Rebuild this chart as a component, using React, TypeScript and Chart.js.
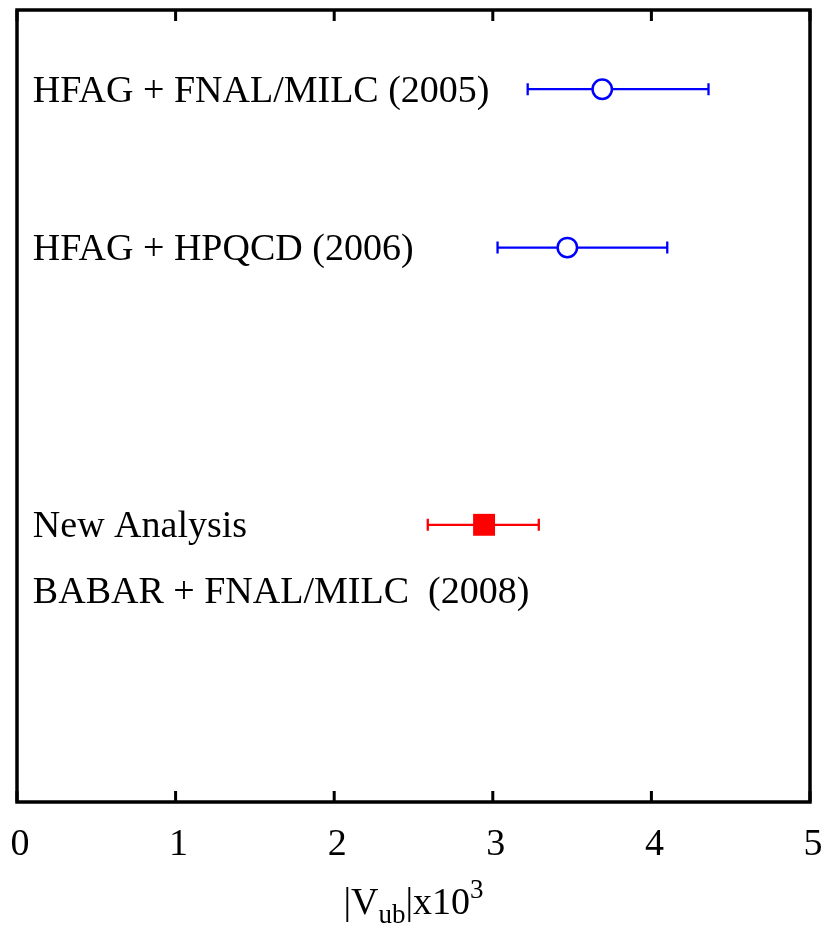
import React, { useEffect, useRef } from "react";
import { Chart, registerables } from "chart.js";

Chart.register(...registerables);

// ---- data ----
const xTickValues = [0, 1, 2, 3, 4, 5];
const xMin = 0;
const xMax = 5;
const yMin = 0;
const yMax = 10;

const rowLabels = [
  "HFAG + FNAL/MILC (2005)",
  "HFAG + HPQCD (2006)",
  "New Analysis",
  "BABAR + FNAL/MILC  (2008)",
];
const rowLabelY = [9, 7, 3.5, 2.67];
const rowLabelX = 0.1;

const blueCenters = [3.69, 3.47];
const blueLow = [3.22, 3.03];
const blueHigh = [4.36, 4.1];
const blueY = [9, 7];

const redCenters = [2.945];
const redLow = [2.59];
const redHigh = [3.29];
const redY = [3.5];

const SERIF = '"Liberation Serif", "Times New Roman", serif';

const errorBarPlugin = {
  id: "errorBars",
  beforeDatasetsDraw(chart: any) {
    const ctx = chart.ctx;
    const xs = chart.scales.x;
    const ys = chart.scales.y;
    chart.data.datasets.forEach((ds: any) => {
      const lows: number[] = ds.errLow;
      const highs: number[] = ds.errHigh;
      ds.data.forEach((p: any, i: number) => {
        const y = ys.getPixelForValue(p.y);
        const x1 = xs.getPixelForValue(lows[i]);
        const x2 = xs.getPixelForValue(highs[i]);
        ctx.save();
        ctx.strokeStyle = ds.borderColor;
        ctx.lineWidth = 2.3;
        ctx.beginPath();
        ctx.moveTo(x1, y);
        ctx.lineTo(x2, y);
        ctx.moveTo(x1, y - 6);
        ctx.lineTo(x1, y + 6);
        ctx.moveTo(x2, y - 6);
        ctx.lineTo(x2, y + 6);
        ctx.stroke();
        ctx.restore();
      });
    });
  },
};

const framePlugin = {
  id: "frame",
  afterDraw(chart: any) {
    const ctx = chart.ctx;
    const { left, right, top, bottom } = chart.chartArea;
    const xs = chart.scales.x;
    const ys = chart.scales.y;
    ctx.save();
    // labels
    const fs = 38;
    ctx.fillStyle = "#000";
    ctx.font = `${fs}px ${SERIF}`;
    ctx.textAlign = "left";
    ctx.textBaseline = "alphabetic";
    rowLabels.forEach((t, i) => {
      const x = xs.getPixelForValue(rowLabelX);
      const y = ys.getPixelForValue(rowLabelY[i]) + (fs * 0.662) / 2;
      ctx.fillText(t, x, y);
    });

    // frame
    ctx.strokeStyle = "#000";
    ctx.lineWidth = 3.5;
    ctx.strokeRect(left, top, right - left, bottom - top);
    // inside ticks
    ctx.lineWidth = 3;
    ctx.beginPath();
    xTickValues.forEach((v) => {
      const x = xs.getPixelForValue(v);
      ctx.moveTo(x, bottom);
      ctx.lineTo(x, bottom - 11);
      ctx.moveTo(x, top);
      ctx.lineTo(x, top + 11);
    });
    ctx.stroke();

    // tick labels
    ctx.font = `38px ${SERIF}`;
    ctx.textAlign = "center";
    ctx.textBaseline = "alphabetic";
    xTickValues.forEach((v) => {
      const x = xs.getPixelForValue(v) + 3;
      ctx.fillText(String(v), x, bottom + 53);
    });

    // axis title |V_ub|x10^3
    const mainF = `38px ${SERIF}`;
    const smallF = `27px ${SERIF}`;
    const parts = [
      { t: "|V", f: mainF, dy: 0 },
      { t: "ub", f: smallF, dy: 9 },
      { t: "|x10", f: mainF, dy: 0 },
      { t: "3", f: smallF, dy: -16 },
    ];
    let total = 0;
    parts.forEach((p) => {
      ctx.font = p.f;
      total += ctx.measureText(p.t).width;
    });
    let cx = (left + right) / 2 - total / 2;
    const base = bottom + 112;
    ctx.textAlign = "left";
    parts.forEach((p) => {
      ctx.font = p.f;
      ctx.fillText(p.t, cx, base + p.dy);
      cx += ctx.measureText(p.t).width;
    });
    ctx.restore();
  },
};

export default function App() {
  const ref = useRef<HTMLCanvasElement | null>(null);
  useEffect(() => {
    if (!ref.current) return;
    const chart = new Chart(ref.current, {
      type: "scatter",
      data: {
        datasets: [
          {
            label: "blue",
            data: blueCenters.map((x, i) => ({ x, y: blueY[i] })),
            errLow: blueLow,
            errHigh: blueHigh,
            borderColor: "#0000ff",
            backgroundColor: "#ffffff",
            pointStyle: "circle",
            pointRadius: 9.7,
            borderWidth: 2.5,
          } as any,
          {
            label: "red",
            data: redCenters.map((x, i) => ({ x, y: redY[i] })),
            errLow: redLow,
            errHigh: redHigh,
            borderColor: "#ff0000",
            backgroundColor: "#ff0000",
            pointStyle: "rect",
            pointRadius: 15.5,
            borderWidth: 0,
          } as any,
        ],
      },
      options: {
        animation: false,
        responsive: true,
        maintainAspectRatio: false,
        layout: {
          autoPadding: false,
          padding: { left: 17, right: 15, top: 10, bottom: 123 },
        },
        scales: {
          x: { type: "linear", min: xMin, max: xMax, display: false },
          y: { type: "linear", min: yMin, max: yMax, display: false },
        },
        plugins: {
          legend: { display: false },
          tooltip: { enabled: false },
        },
      },
      plugins: [errorBarPlugin, framePlugin],
    });
    return () => chart.destroy();
  }, []);
  return (
    <div
      style={{
        position: "absolute",
        left: 0,
        top: 0,
        width: 825,
        height: 925,
        background: "#fff",
      }}
    >
      <canvas ref={ref} />
    </div>
  );
}
